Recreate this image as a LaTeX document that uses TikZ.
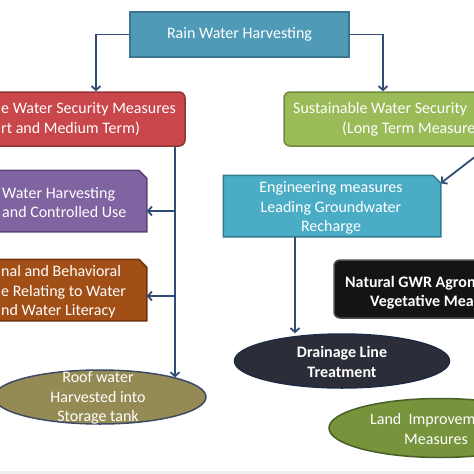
\documentclass[tikz,border=0pt]{standalone}
\usepackage{fontspec}
\setmainfont{Carlito}
\usetikzlibrary{shapes.geometric,arrows.meta}
\definecolor{topc}{HTML}{4F9BB7}
\definecolor{topd}{HTML}{3A7690}
\definecolor{redc}{HTML}{C9464A}
\definecolor{redd}{HTML}{8E3436}
\definecolor{grnc}{HTML}{9BBB59}
\definecolor{grnd}{HTML}{6E8A3C}
\definecolor{purc}{HTML}{8064A2}
\definecolor{purd}{HTML}{5A4676}
\definecolor{brnc}{HTML}{A24E17}
\definecolor{brnd}{HTML}{6E3510}
\definecolor{cyac}{HTML}{4BACC6}
\definecolor{cyad}{HTML}{327C90}
\definecolor{blkc}{HTML}{141414}
\definecolor{blkd}{HTML}{505050}
\definecolor{olvc}{HTML}{948A54}
\definecolor{olvd}{HTML}{3E4A66}
\definecolor{drnc}{HTML}{2B2E38}
\definecolor{drnd}{HTML}{1E2A44}
\definecolor{lndc}{HTML}{77933C}
\definecolor{lndd}{HTML}{4A5E28}
\definecolor{arrc}{HTML}{2F4C74}
\definecolor{bandc}{HTML}{EEEEEE}
\begin{document}
\begin{tikzpicture}[x=1pt,y=-1pt,
  font=\fontsize{16}{19.5}\selectfont,
  shapebox/.style={line width=1.5pt, inner sep=0pt, text=white},
  rbox/.style={shapebox, rectangle, rounded corners=6pt},
  cbox/.style={shapebox, rectangle},
  chamf/.style={line width=1.5pt, line join=miter},
  ebox/.style={shapebox, ellipse},
  txt/.style={text=white, inner sep=0pt},
  arr/.style={draw=arrc, line width=1.8pt, -{Straight Barb[length=4pt,width=9pt]}}]
\useasboundingbox (0,0) rectangle (474,474);
\clip (0,0) rectangle (474,474);
\fill[bandc] (0,471) rectangle (474,474);

% shapes
\node[shapebox, rectangle, fill=topc, draw=topd, minimum width=219pt, minimum height=45pt] (T) at (239.5,34.5) {};
\node[rbox, fill=redc, draw=redd, minimum width=225pt, minimum height=54pt] (R) at (72.5,119) {};
\node[rbox, fill=grnc, draw=grnd, minimum width=236pt, minimum height=54pt] (G) at (402,119) {};
\node[cbox, minimum width=186pt, minimum height=60pt] (P) at (53,201) {};
\node[cbox, minimum width=186pt, minimum height=60pt] (B) at (53,290) {};
\node[cbox, minimum width=216pt, minimum height=60pt] (C) at (332,206) {};
\draw[chamf, fill=purc, draw=purd] (P.south west) -- (P.south east) -- ([yshift=-8pt]P.north east) -- ([xshift=-8pt]P.north east) -- (P.north west) -- cycle;
\draw[chamf, fill=brnc, draw=brnd] (B.south west) -- (B.south east) -- ([yshift=-8pt]B.north east) -- ([xshift=-8pt]B.north east) -- (B.north west) -- cycle;
\draw[chamf, fill=cyac, draw=cyad] (C.south west) -- (C.south east) -- ([yshift=-8pt]C.north east) -- ([xshift=-8pt]C.north east) -- (C.north west) -- cycle;
\node[rbox, fill=blkc, draw=blkd, minimum width=186pt, minimum height=58pt] (K) at (427,289) {};
\node[ebox, fill=olvc, draw=olvd, minimum width=212pt, minimum height=54pt] (E1) at (100,397) {};
\node[ebox, fill=drnc, draw=drnd, minimum width=215pt, minimum height=54pt] (E2) at (342,361) {};
\node[ebox, fill=lndc, draw=lndd, minimum width=222pt, minimum height=59pt] (E3) at (440,428) {};

% texts
\node[txt] (tT) at (T.center) {Rain Water Harvesting};
\node[txt, anchor=west, align=left] (tR) at (1,119) {e Water Security Measures\\rt and Medium Term)};
\node[txt, anchor=west] (tG1) at (293,109) {Sustainable Water Security};
\node[txt, anchor=west] (tG2) at (342,129) {(Long Term Measure};
\node[txt, anchor=west, align=left] (tP) at (2,202.5) {Water Harvesting\\and Controlled Use};
\node[txt, anchor=west, align=left] (tB) at (1,292) {nal and Behavioral\\e Relating to Water\\nd Water Literacy};
\node[txt, align=center] (tC) at (331,208) {Engineering measures\\Leading Groundwater\\Recharge};
\node[txt, anchor=west, font=\fontsize{16}{19.5}\selectfont\bfseries] (tK1) at (345,283) {Natural GWR Agron};
\node[txt, anchor=west, font=\fontsize{16}{19.5}\selectfont\bfseries] (tK2) at (370,302) {Vegetative Mea};
\node[txt, align=center] (tE1) at (98,398) {Roof water\\Harvested into\\Storage tank};
\node[txt, align=center, font=\fontsize{16}{19.5}\selectfont\bfseries] (tE2) at (342,362) {Drainage Line\\Treatment};
\node[txt, anchor=west] (tE31) at (370,420) {Land~ Improvem};
\node[txt, anchor=west] (tE32) at (404,439) {Measures};

% connectors
\coordinate (lsp) at ([xshift=102.5pt]R.south);
\coordinate (rsp) at ([xshift=-37pt]C.south);
\coordinate (gout) at ([xshift=86pt]G.south);
\draw[arr] (T.west) -| ([xshift=23.5pt]R.north);
\draw[arr] (T.east) -| ([xshift=-19pt]G.north);
\draw[arr] (lsp) -- (lsp |- E1.north east);
\draw[arr] (lsp |- P.east) ++(0,10) -- ([yshift=-10pt]P.east);
\draw[arr] (lsp |- B.east) ++(0,6) -- ([yshift=-6pt]B.east);
\draw[arr] (gout) -- ([yshift=-8pt]C.north east);
\draw[arr] (rsp) -- (rsp |- E2.north);
\end{tikzpicture}
\end{document}
